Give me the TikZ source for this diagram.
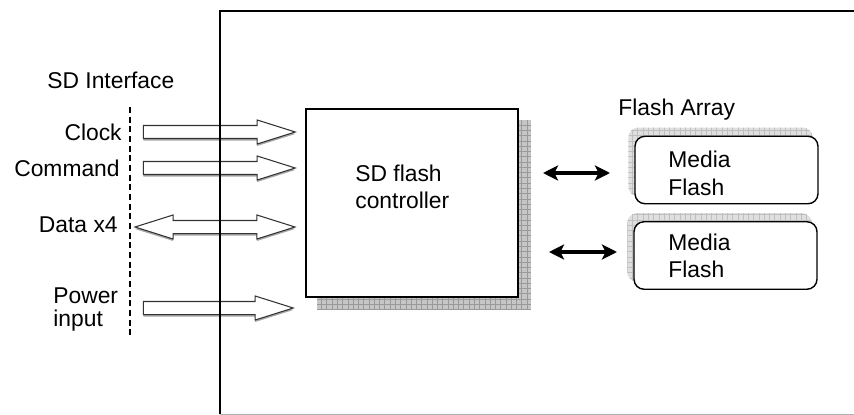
\documentclass[tikz,border=0pt]{standalone}
\usepackage{fontspec}
\setmainfont{Liberation Sans}
\usetikzlibrary{shapes.arrows, arrows.meta, positioning, patterns, shadows, backgrounds, calc}

\begin{document}
\begin{tikzpicture}[
        x=0.02cm, y=-0.02cm,
        lbl/.style={font=\fontsize{13}{13.1}\selectfont, inner sep=0pt, align=left},
        ctrlbox/.style={rectangle, draw, line width=0.9pt, fill=white, minimum width=4.24cm, minimum height=3.76cm},
        media/.style={rectangle, rounded corners=0.2cm, draw, line width=0.8pt, fill=white, minimum width=3.66cm, minimum height=1.35cm},
        fatarrow/.style={single arrow, draw=black!80, fill=white, line width=0.6pt, inner sep=0pt, text height=0.24cm, text depth=0pt, single arrow head extend=0.11cm, single arrow tip angle=35, drop shadow={shadow xshift=0pt, shadow yshift=-0.04cm, opacity=1, fill=gray!70}},
        dblarrow/.style={double arrow, draw=black!80, fill=white, line width=0.6pt, inner sep=0pt, text height=0.24cm, text depth=0pt, double arrow head extend=0.11cm, double arrow tip angle=35, drop shadow={shadow xshift=0pt, shadow yshift=-0.04cm, opacity=1, fill=gray!70}},
        bus/.style={{Stealth[length=0.3cm, width=0.3cm, inset=0.07cm]}-{Stealth[length=0.3cm, width=0.3cm, inset=0.07cm]}, line width=2.2pt},
        shade/.style={fill=gray!45},
        grain/.style={pattern=grid, pattern color=gray!80}
    ]
        \useasboundingbox (0,0) rectangle (854,415);

        % SD interface
        \node[lbl, anchor=base west] (sdif) at (47,89) {SD Interface};
        \coordinate (dtop) at (130,107);
        \coordinate (dbot) at (130,337);
        \draw[line width=0.7pt, dash pattern=on 3.5pt off 2pt] (dtop) -- (dbot);
        \foreach \n/\t/\x/\y in {clk/Clock/122/141, cmd/Command/120/176, dat/Data x4/118/232} {
            \node[lbl, anchor=base east] (\n) at (\x,\y) {\t};
        }
        \node[lbl, anchor=north west] (pwr) at (53,287) {Power\\input};

        % Input arrows
        \foreach \n/\x/\y/\l in {clkarr/297/132/3.04cm, cmdarr/297/168/3.04cm, pwrarr/295/308/3.0cm} {
            \node[fatarrow, minimum height=\l, anchor=tip] (\n) at (\x,\y) {};
        }
        \node[dblarrow, minimum height=3.2cm] (datarr) at (215,227) {};

        % Card outline
        \coordinate (ctl) at (220,11);
        \coordinate (cbl) at (220,414);
        \draw[line width=0.9pt] (854,11) -- (ctl) -- (cbl);
        \draw[gray!60] (cbl) -- (854,414);

        % Controller
        \node[ctrlbox] (ctrl) at (412,203) {};
        \node[lbl, anchor=north west, font=\fontsize{13}{15.4}\selectfont] (ctrltxt) at (355,165) {SD flash\\controller};

        % Flash array
        \node[lbl, anchor=base west] (farr) at (618,116) {Flash Array};
        \node[media] (m1) at (726.5,170) {};
        \node[media] (m2) at (725.5,255.5) {};
        \node[lbl, anchor=north west, font=\fontsize{13}{15.9}\selectfont] (m1txt) at (668,151) {Media\\Flash};
        \node[lbl, anchor=north west, font=\fontsize{13}{15}\selectfont] (m2txt) at (668,234) {Media\\Flash};

        % Shadows
        \begin{scope}[on background layer]
            \path[shade] ([shift={(12,12)}]ctrl.north west) rectangle ([shift={(12,12)}]ctrl.south east);
            \path[grain] ([shift={(12,12)}]ctrl.north west) rectangle ([shift={(12,12)}]ctrl.south east);
            \foreach \m in {m1, m2} {
                \path[fill=gray!25, rounded corners=0.2cm] ([shift={(-6,-8)}]\m.north west) rectangle ([shift={(-6,-8)}]\m.south east);
                \path[pattern=grid, pattern color=gray!50, rounded corners=0.2cm] ([shift={(-6,-8)}]\m.north west) rectangle ([shift={(-6,-8)}]\m.south east);
            }
        \end{scope}

        % Buses to the flash
        \coordinate (b1a) at (543,173);
        \coordinate (b1b) at (610,173);
        \coordinate (b2a) at (549,252);
        \coordinate (b2b) at (617,252);
        \draw[bus] (b1a) -- (b1b);
        \draw[bus] (b2a) -- (b2b);
\end{tikzpicture}
\end{document}
